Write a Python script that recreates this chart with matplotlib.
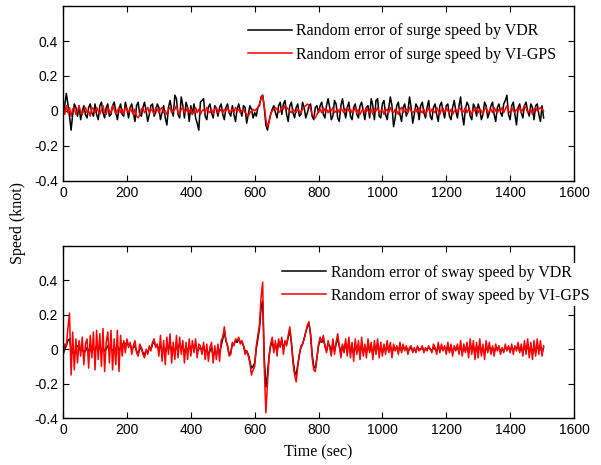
import numpy as np
import matplotlib
matplotlib.use("Agg")
import matplotlib.pyplot as plt

plt.rcParams['axes.unicode_minus'] = False

# time axis (sec), one sample every 5 s
time_sec = np.arange(0, 1510, 5)

# values, in hundredths of a knot
surge_vdr = [
    -2, 3, 10, 4, -3, -11, -2, 4, 2, -3, 3, -5, 0, 3, -2, -4, 2, 4, -1, -3,
    4, -2, -5, 3, 5, -1, -4, 2, 4, -3, -2, 3, 5, 0, -5, 1, 4, -2, -3, 5,
    1, -4, 2, 4, -1, -6, 3, 5, -2, -3, 2, 5, 0, -6, -2, 3, 4, -3, -1, 4,
    2, -5, -1, 3, -4, -8, 2, 6, 1, -3, 9, 7, -2, -4, 8, 3, -4, 5, 2, -6,
    3, -2, 4, -4, -7, -11, 5, 6, 7, -3, -5, 2, 4, -1, -4, 3, 1, -3, 2, 4,
    -2, -5, 2, 4, -1, -3, 3, -2, -6, 1, 4, 0, -3, 3, 2, -7, -2, 3, 1, -4,
    -1, -3, 2, 3, 8, 9, 2, -8, -11, -6, -2, 1, 3, -1, -4, 3, 5, -2, 4, 6,
    -2, -6, 3, 5, -1, -4, 2, 4, -3, -2, 5, 2, -4, -1, 3, 4, -3, -5, 2, 3,
    -1, 3, 5, -2, -4, 3, 7, 2, -5, -3, 6, 4, -4, -6, 3, 7, 1, -4, 2, 5,
    -3, -5, 2, 4, -2, -4, 3, 5, 0, -5, 2, 3, -4, 7, 3, -5, 6, 7, -3, -4,
    4, 6, -2, -5, 2, 8, 3, -9, -4, 3, 5, -2, -6, 2, 4, -3, 0, 8, 2, -7,
    -2, 4, 2, -5, 3, 5, -1, -4, 2, 6, -3, -5, 2, 4, -2, -6, 3, 5, 0, -4,
    3, 4, -3, -5, 2, 6, 0, -4, 3, 8, -2, -8, 1, 5, 3, -3, -5, 4, 2, -3,
    4, 1, -5, -2, 5, 3, -4, -1, 3, 5, -2, -6, 2, 4, -1, -3, 4, 6, 9, -2,
    -5, 3, 5, -2, -8, 2, 4, -1, -4, 3, 5, 0, -3, 4, 2, -5, 3, 4, -2, -6,
    3, -4,
]

surge_gps = [
    1, -2, 3, -1, 2, -3, 1, 2, -2, 0, 3, -1, -2, 1, 2, -1, 0, -3, 2, 1,
    -1, 2, 0, -2, 1, 3, -1, -2, 2, 0, -1, 3, 1, -2, 0, 2, -1, 1, -2, 2,
    1, -1, 2, 0, -2, 1, -3, -4, -2, 1, 2, -1, 0, 2, -1, 1, 0, -2, 2, 1,
    -1, 1, 2, -1, 0, -2, 1, 2, -1, 0, 1, 3, -1, -2, 1, 2, -1, 0, 2, -1,
    1, -2, 0, 2, -1, 1, -2, 0, 1, -1, 2, 0, -1, 1, -2, 1, 2, -1, 0, 1,
    -1, 1, 0, 2, -1, 0, 1, -1, 2, 0, 1, -1, 0, 1, -1, -2, -3, -1, 0, 1,
    0, 1, 2, 4, 7, 9, 3, -5, -9, -6, -2, 0, 1, 2, 1, -1, 0, 2, 1, 3,
    2, 1, 0, -1, 1, 0, -1, 1, 0, -1, 1, 2, 3, 4, 3, 1, -2, -3, -4, -2,
    0, 1, -1, 2, 0, 1, -1, 1, 0, 2, -1, 0, 1, -1, 2, 0, -1, 1, 2, 0,
    1, -1, 0, 2, -1, 1, -2, 0, 1, -1, 2, 0, -1, 1, -2, 1, 0, 2, -1, 0,
    1, -2, 0, 1, -1, 2, 0, -1, 1, 0, -2, 1, 2, -1, 0, 1, -1, 2, 0, -1,
    0, 1, -1, 2, 0, -1, 1, -2, 0, 2, -1, 1, 0, -1, 2, 0, -2, 1, 1, -1,
    2, 0, -1, 1, -2, 0, 1, -1, 2, 1, -1, 0, 2, -1, 1, 0, -2, 1, 0, 2,
    -1, 1, 0, -2, 1, 2, -1, 0, 1, -1, 2, 0, -1, 1, 0, 2, -1, 1, 3, 0,
    -1, 2, 0, -1, 1, 0, 2, -1, 1, 3, 2, -1, 0, 1, -2, 1, 2, 0, 1, 2,
    1, 0,
]

sway_vdr = [
    -3, 0, 2, 5, 6, 0, -2, -3, 0, 2, 1, -1, 0, -2, -1, 1, -1, 0, -2, 1,
    -1, 2, 0, 1, -2, 1, -1, 0, 2, 1, 0, -1, 1, 0, 2, -1, 1, 2, 4, 3,
    4, 2, 3, 0, 1, 2, -1, -3, 0, 1, -2, -3, -1, -2, 1, 0, 3, 4, 2, 2,
    0, 2, -1, 1, -2, 2, 0, 3, -1, 1, -2, 2, 0, 3, 1, 2, -2, 1, -1, 2,
    0, 2, 1, 3, -1, 0, 1, -1, 2, -2, 0, -3, -1, 1, -4, -1, -3, 0, -2, 2,
    6, 10, 5, 2, -3, -2, 3, 3, 5, 4, 6, 4, 4, 2, -1, -1, -3, -7, -11, -10,
    -8, 0, 6, 12, 24, 28, -5, -22, -15, -4, 2, 4, 0, 3, -1, 4, 2, 5, 0, 4,
    3, 7, 11, 4, -6, -13, -15, -9, -3, 1, 3, 6, 10, 13, 15, 9, -3, -10, -11, -5,
    2, 5, 4, 6, 2, -1, 3, 2, -2, 4, -1, 3, 6, 2, -3, 2, -1, 4, -2, 5,
    -2, 2, -3, 3, -1, 2, -3, 3, -2, 1, -2, 3, -1, 2, -3, 2, -1, 3, -2, 2,
    -2, 1, -1, 2, -1, 2, -2, 1, 0, 1, -1, 2, -1, 1, 0, 1, -1, 0, 1, -1,
    0, -1, 1, 0, 0, 1, -1, 0, 0, 1, 0, -1, 1, 0, -1, 2, -1, 1, 0, 1,
    -1, 2, -1, 1, -2, 1, 0, 1, -1, 2, -2, 1, -1, 2, -2, 3, -1, 2, -3, 2,
    -2, 3, -2, 1, -3, 2, -1, 2, -1, 1, -2, 1, 0, 1, -1, 0, -1, 1, 0, 1,
    -1, 1, -1, 1, 0, 2, -1, 1, -2, 2, -1, 3, -2, 2, -3, 2, -2, 3, -1, 2,
    -2, 1,
]

sway_gps = [
    -3, 3, 2, 12, 21, -15, 10, -12, 6, -8, 5, -4, 7, -9, 3, 6, -11, 8, -5, 10,
    -12, 11, -6, 9, -10, 12, -13, 4, 10, -8, 11, -12, 6, -9, 11, -13, 8, -4, 5, -2,
    6, 1, 4, -3, 2, 5, -2, -4, 3, 1, -3, -5, 0, -3, 2, -1, 4, 6, 1, 3,
    -4, 8, -7, 5, -9, 7, -3, 9, -8, 4, -6, 8, -5, 7, -3, 5, -8, 4, -6, 6,
    -4, 5, -2, 6, -5, 3, 2, -3, 4, -6, 3, -7, 1, 4, -8, 2, -6, 3, -7, 5,
    7, 13, 5, 2, -4, -3, 4, 2, 6, 5, 7, 3, 5, 2, -3, -1, -4, -8, -15, -12,
    -10, 2, 8, 14, 30, 39, -10, -37, -20, -5, 3, 7, -2, 5, -4, 6, 1, 7, -3, 5,
    2, 8, 13, 4, -8, -15, -19, -10, -3, 2, 3, 6, 10, 14, 16, 8, -5, -12, -13, -5,
    3, 7, 4, 8, 2, -2, 5, 1, -4, 6, -3, 4, 9, 2, -5, 3, -2, 6, -4, 7,
    -5, 4, -7, 6, -3, 5, -6, 7, -4, 3, -5, 6, -2, 4, -6, 5, -3, 6, -5, 4,
    -4, 3, -3, 5, -2, 4, -5, 3, -1, 2, -3, 4, -2, 3, -1, 2, -3, 1, 2, -2,
    1, -2, 2, -1, 0, 2, -2, 1, -1, 2, 0, -2, 3, 1, -3, 4, -2, 3, -1, 2,
    -3, 4, -2, 3, -4, 2, -1, 3, -3, 5, -4, 3, -2, 4, -5, 6, -3, 5, -6, 4,
    -5, 6, -4, 3, -6, 5, -2, 4, -3, 2, -4, 3, -1, 2, -3, 1, -2, 3, -1, 2,
    -2, 3, -3, 2, -1, 4, -2, 3, -4, 5, -3, 6, -5, 4, -6, 5, -4, 6, -3, 5,
    -4, 2,
]

legend_top = ["Random error of surge speed by VDR",
              "Random error of surge speed by VI-GPS"]
legend_bottom = ["Random error of sway speed by VDR",
                 "Random error of sway speed by VI-GPS"]

y_ticks = [-0.4, -0.2, 0, 0.2, 0.4]
y_tick_labels = ["-0.4", "-0.2", "0", "0.2", "0.4"]
x_ticks = [0, 200, 400, 600, 800, 1000, 1200, 1400, 1600]

tick_font = {'family': 'Liberation Sans', 'size': 10}
serif = 'Liberation Serif'


def style_axes(ax):
    ax.set_xlim(0, 1600)
    ax.set_ylim(-0.4, 0.6)
    ax.set_xticks(x_ticks)
    ax.set_xticklabels([str(v) for v in x_ticks], fontdict=tick_font)
    ax.set_yticks(y_ticks)
    ax.set_yticklabels(y_tick_labels, fontdict=tick_font)
    ax.tick_params(direction='in', top=True, right=True, length=4, width=0.8)
    for s in ax.spines.values():
        s.set_linewidth(1.0)


def draw_panel(ax, vdr, gps, labels, anchor):
    ax.plot(time_sec, np.array(vdr) * 0.01, color='black', lw=1.1, label=labels[0])
    ax.plot(time_sec, np.array(gps) * 0.01, color='red', lw=1.1, label=labels[1])
    style_axes(ax)
    # white legend box without edge, like the original (it covers the spine below)
    leg = ax.legend(loc='upper left', bbox_to_anchor=anchor, frameon=True,
                    prop={'family': serif, 'size': 11.5}, handlelength=2.75,
                    handletextpad=0.3, labelspacing=0.45, borderaxespad=0,
                    borderpad=0.1, fancybox=False)
    leg.get_frame().set_edgecolor('none')
    leg.get_frame().set_facecolor('white')
    leg.get_frame().set_alpha(1.0)
    leg.set_zorder(5)


fig = plt.figure(figsize=(6.01, 4.65), dpi=100)
ax1 = fig.add_axes([0.105, 0.611, 0.850, 0.376])
ax2 = fig.add_axes([0.105, 0.101, 0.850, 0.370])

draw_panel(ax1, surge_vdr, surge_gps, legend_top, (0.358, 0.91))
draw_panel(ax2, sway_vdr, sway_gps, legend_bottom, (0.426, 0.90))

fig.text(0.03, 0.52, "Speed (knot)", rotation=90, ha='center', va='center',
         family=serif, size=11.5)
fig.text(0.53, 0.028, "Time (sec)", ha='center', va='center',
         family=serif, size=11.5)

fig.savefig("out.png", dpi=100)
